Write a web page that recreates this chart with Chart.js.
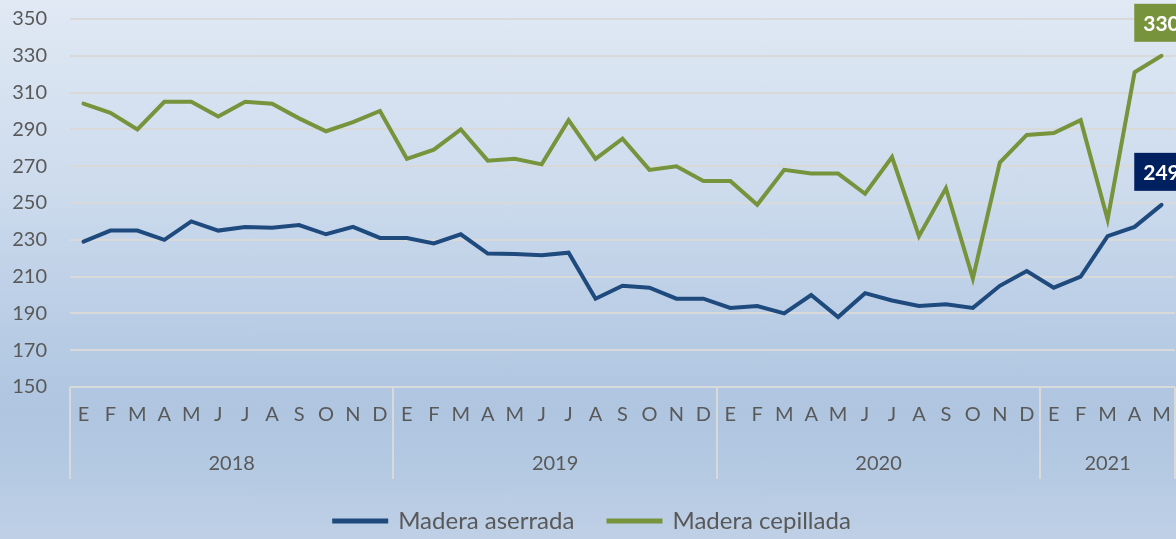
<!DOCTYPE html>
<html>
<head>
<meta charset="utf-8">
<script src="https://cdn.jsdelivr.net/npm/chart.js@4.4.1/dist/chart.umd.min.js"></script>
<style>
html, body { margin: 0; padding: 0; }
#wrap {
    width: 1176px; height: 539px;
    background: linear-gradient(to bottom, #e0e9f4 0%, #cddbed 35%, #b9cde5 60%, #afc5e0 76%, #b4c9e2 87%, #bfd0e6 100%);
}
</style>
</head>
<body>
<div id="wrap"><canvas id="line_chart" width="1176" height="539"></canvas></div>
<script>
// month labels (E..D for 2018-2020, E..M for 2021)
var months = ['E','F','M','A','M','J','J','A','S','O','N','D',
              'E','F','M','A','M','J','J','A','S','O','N','D',
              'E','F','M','A','M','J','J','A','S','O','N','D',
              'E','F','M','A','M'];
var years = ['2018', '2019', '2020', '2021'];
var yearCenters = [5.5, 17.5, 29.5, 38];
var yearEdges = [-0.5, 11.5, 23.5, 35.5, 40.5];

var aserrada = [229, 235, 235, 230, 240, 235, 237, 236.5, 238, 233, 237, 231,
                231, 228, 233, 222.5, 222.3, 221.6, 223, 198, 205, 204, 198, 198,
                193, 194, 190, 200, 188, 201, 197, 194, 195, 193, 205, 213,
                204, 210, 232, 237, 249];
var cepillada = [304, 299, 290, 305, 305, 297, 305, 304, 296, 289, 294, 300,
                 274, 279, 290, 273, 274, 271, 295, 274, 285, 268, 270, 262,
                 262, 249, 268, 266, 266, 255, 275, 232, 258, 209, 272, 287,
                 288, 295, 241, 321, 330];

var textColor = '#595959';
var blue = '#1f4a7d';
var green = '#77933c';
var yearRowHeight = 52; // month row + year row separators stop here

// box with the last value above the end of each line
var lastValuePlugin = {
    id: 'lastValue',
    afterDatasetsDraw: function (chart) {
        var ctx = chart.ctx;
        var boxColors = ['#002060', green];
        chart.data.datasets.forEach(function (ds, i) {
            var meta = chart.getDatasetMeta(i);
            var pt = meta.data[meta.data.length - 1];
            var txt = String(ds.data[ds.data.length - 1]);
            ctx.save();
            ctx.font = 'bold 21px Lato';
            var w = ctx.measureText(txt).width + 18;
            var h = 38;
            var cy = pt.y - 33;
            ctx.fillStyle = boxColors[i];
            ctx.fillRect(pt.x - w / 2, cy - h / 2, w, h);
            ctx.fillStyle = '#ffffff';
            ctx.textAlign = 'center';
            ctx.textBaseline = 'middle';
            ctx.fillText(txt, pt.x, cy + 1);
            ctx.restore();
        });
    }
};

// vertical separators between the years under the axis
var yearLinesPlugin = {
    id: 'yearLines',
    afterDraw: function (chart) {
        var ctx = chart.ctx;
        var x2 = chart.scales.x2;
        var top = chart.scales.x.top;
        var bottom = x2.top + yearRowHeight;
        ctx.save();
        ctx.strokeStyle = '#d9d9d9';
        ctx.lineWidth = 2;
        yearEdges.forEach(function (v) {
            var px = Math.round(x2.getPixelForValue(v));
            ctx.beginPath();
            ctx.moveTo(px, top);
            ctx.lineTo(px, bottom);
            ctx.stroke();
        });
        ctx.restore();
    }
};

var config = {
    type: 'line',
    data: {
        labels: months,
        datasets: [{
            label: 'Madera aserrada',
            data: aserrada,
            borderColor: blue,
            backgroundColor: blue,
            borderWidth: 4,
            borderCapStyle: 'round',
            pointRadius: 0,
            tension: 0
        }, {
            label: 'Madera cepillada',
            data: cepillada,
            borderColor: green,
            backgroundColor: green,
            borderWidth: 4,
            borderCapStyle: 'round',
            pointRadius: 0,
            tension: 0
        }]
    },
    options: {
        responsive: false,
        animation: false,
        layout: { padding: { top: 19, right: 1, left: 10, bottom: -4 } },
        plugins: {
            tooltip: { enabled: false },
            legend: {
                position: 'bottom',
                labels: {
                    boxWidth: 52,
                    boxHeight: 1,
                    padding: 10,
                    color: textColor,
                    font: { family: 'Lato', size: 24 },
                    generateLabels: function (chart) {
                        var items = Chart.defaults.plugins.legend.labels.generateLabels(chart);
                        // wider gap between the two entries
                        items[0].text += '\u2003 ';
                        return items;
                    }
                }
            }
        },
        scales: {
            y: {
                min: 150,
                max: 350,
                ticks: { stepSize: 20, color: textColor, font: { family: 'Lato', size: 20 }, padding: 0 },
                grid: { color: '#d9d9d9', lineWidth: 2, drawTicks: true, tickLength: 23, tickColor: 'rgba(0,0,0,0)' },
                border: { display: false },
                afterFit: function (s) { s.width = 60; }
            },
            x: {
                offset: true,
                grid: { display: true, drawOnChartArea: false, drawTicks: true, tickLength: 16, color: 'rgba(0,0,0,0)' },
                border: { display: false },
                ticks: { color: textColor, font: { family: 'Lato', size: 20 }, padding: 0, autoSkip: false, maxRotation: 0 },
                afterFit: function (s) { s.height = 40; }
            },
            x2: {
                type: 'linear',
                position: 'bottom',
                min: -0.5,
                max: 40.5,
                grid: { display: false, drawTicks: false },
                border: { display: false },
                afterBuildTicks: function (s) {
                    s.ticks = yearCenters.map(function (v) { return { value: v }; });
                },
                ticks: {
                    color: textColor,
                    font: { family: 'Lato', size: 20 },
                    padding: 25,
                    autoSkip: false,
                    maxRotation: 0,
                    callback: function (v, i) { return years[i]; }
                },
                afterFit: function (s) { s.height = 72; }
            }
        }
    },
    plugins: [lastValuePlugin, yearLinesPlugin]
};

new Chart(document.getElementById('line_chart').getContext('2d'), config);
</script>
</body>
</html>
